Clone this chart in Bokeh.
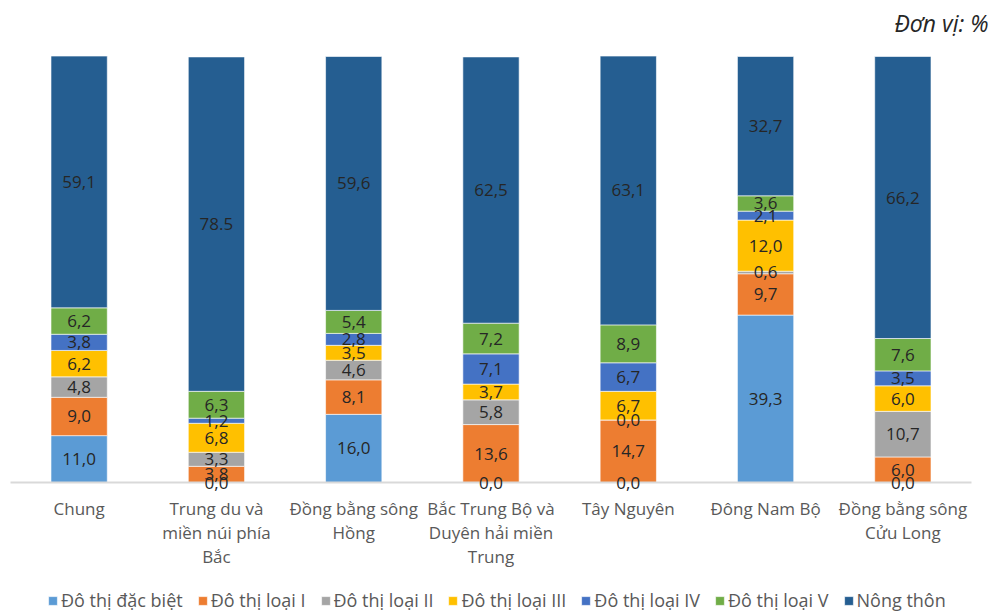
from bokeh.plotting import figure
from bokeh.models import ColumnDataSource, Legend, LegendItem, Range1d
from bokeh.core.properties import value
from bokeh.embed import file_html
from bokeh.resources import INLINE

regions = ["Chung", "Trung du và\nmiền núi phía\nBắc", "Đồng bằng sông\nHồng",
           "Bắc Trung Bộ và\nDuyên hải miền\nTrung", "Tây Nguyên", "Đông Nam Bộ",
           "Đồng bằng sông\nCửu Long"]
series = ["Đô thị đặc biệt", "Đô thị loại I", "Đô thị loại II", "Đô thị loại III",
          "Đô thị loại IV", "Đô thị loại V", "Nông thôn"]
dac_biet = [11.0, 0.0, 16.0, 0.0, 0.0, 39.3, 0.0]
loai_1 = [9.0, 3.8, 8.1, 13.6, 14.7, 9.7, 6.0]
loai_2 = [4.8, 3.3, 4.6, 5.8, 0.0, 0.6, 10.7]
loai_3 = [6.2, 6.8, 3.5, 3.7, 6.7, 12.0, 6.0]
loai_4 = [3.8, 1.2, 2.8, 7.1, 6.7, 2.1, 3.5]
loai_5 = [6.2, 6.3, 5.4, 7.2, 8.9, 3.6, 7.6]
nong_thon = [59.1, 78.5, 59.6, 62.5, 63.1, 32.7, 66.2]
nong_thon_labels = ["59,1", "78.5", "59,6", "62,5", "63,1", "32,7", "66,2"]
unit_text = "Đơn vị: %"

colors = ["#5B9BD5", "#ED7D31", "#A5A5A5", "#FFC000", "#4472C4", "#70AD47", "#255E91"]
font = "Open Sans"

W, H = 993, 612
n = len(regions)
xpos = list(range(n))
all_series = [dac_biet, loai_1, loai_2, loai_3, loai_4, loai_5, nong_thon]
keys = ["s%d" % i for i in range(7)]
data = {"x": xpos}
for k, s in zip(keys, all_series):
    data[k] = s
source = ColumnDataSource(data)

# scales: plot area from px 10 to 971 horizontally, 0% at px 482 and 100% at px 56
cat_w = (971 - 10) / n
x0 = -0.5 - 10 / cat_w
x1 = x0 + W / cat_w
unit = (482 - 56) / 100.0
y1 = 482 / unit
y0 = -(H - 482) / unit

p = figure(width=W, height=H, x_range=Range1d(x0, x1), y_range=Range1d(y0, y1),
           output_backend="svg", toolbar_location=None, min_border=0)
p.outline_line_color = None
p.grid.visible = False
p.xaxis.visible = False
p.yaxis.visible = False

renderers = p.vbar_stack(keys, x="x", width=0.41, color=colors, source=source,
                         line_color="white", line_width=0.6)

# category axis line
p.segment(x0=[-0.5], y0=[0], x1=[n - 0.5], y1=[0], line_color="#D9D9D9", line_width=2)

# category labels
p.text(x=xpos, y=[0] * n, text=regions, text_align="center", text_baseline="top",
       y_offset=14, text_font=value(font), text_font_size="17px", text_color="#595959",
       text_line_height=1.05)

# data labels
xs, ys, texts = [], [], []
for i in range(n):
    cum = 0.0
    for j, s in enumerate(all_series):
        v = s[i]
        xs.append(i)
        ys.append(cum + v / 2)
        if j == 6:
            texts.append(nong_thon_labels[i])
        else:
            texts.append(("%.1f" % v).replace(".", ","))
        cum += v
lab = ColumnDataSource(dict(x=xs, y=ys, t=texts))
p.text(x="x", y="y", text="t", source=lab, text_align="center", text_baseline="middle",
       text_font=value(font), text_font_size="17px", text_color="#262626")

# unit note
p.text(x=[x1], y=[y1], text=[unit_text], text_align="right", text_baseline="middle",
       x_offset=-5, y_offset=22, text_font=value(font), text_font_size="23px",
       text_font_style="italic", text_color="#262626")

items = [LegendItem(label=s, renderers=[r]) for s, r in zip(series, renderers)]
legend = Legend(items=items, orientation="horizontal", location=(47, 0),
                label_text_font=font, label_text_font_size="18px", label_text_color="#595959",
                glyph_width=11, glyph_height=11, label_standoff=3, spacing=14,
                padding=0, margin=0, border_line_color=None, background_fill_alpha=0)
p.add_layout(legend)

open("out.html", "w").write(file_html(p, INLINE))
